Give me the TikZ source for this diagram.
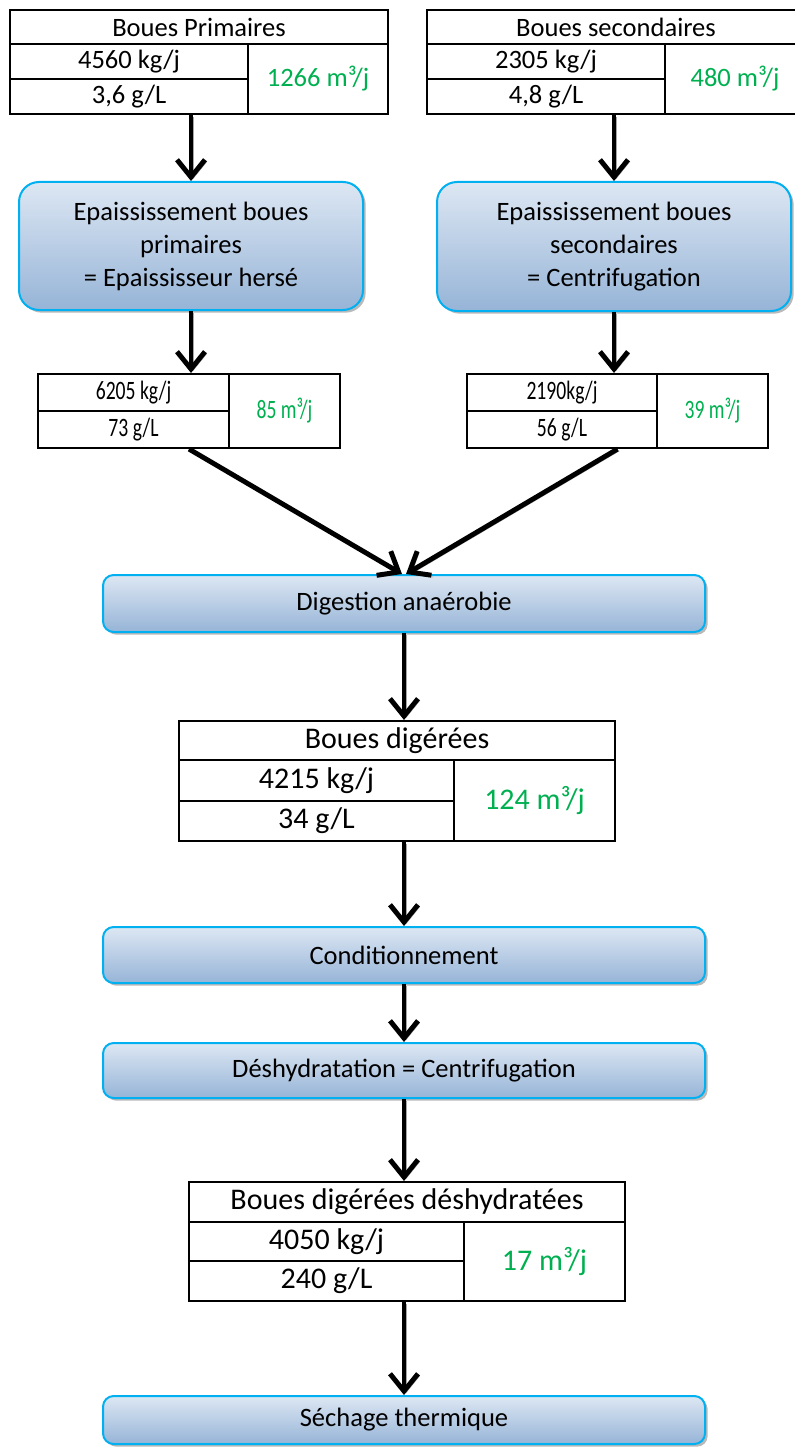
\documentclass[tikz,border=0pt]{standalone}
\usepackage{fontspec}
\setmainfont{Carlito}
\usetikzlibrary{arrows.meta,fit,shadows}

\definecolor{volgreen}{RGB}{0,176,80}
\definecolor{boxedge}{RGB}{0,176,240}
\definecolor{boxtop}{RGB}{221,231,243}
\definecolor{boxbottom}{RGB}{150,180,215}

\newcommand{\squeeze}[1]{\scalebox{0.74}[1]{#1}}

\tikzset{
  tab/.style={draw, line width=1.6pt, inner sep=0pt},
  txt/.style={font=\fontsize{19.9}{24.75}\selectfont, align=center, inner sep=0pt},
  bigtxt/.style={font=\fontsize{22.5}{27}\selectfont, inner sep=0pt},
  vol/.style={text=volgreen},
  procbox/.style={draw=boxedge, line width=1.5pt, rounded corners=15pt, inner sep=0pt,
    top color=boxtop, bottom color=boxbottom,
    drop shadow={shadow xshift=2pt, shadow yshift=-2pt, opacity=0.5, fill=black!55}},
  stepbox/.style={procbox, rounded corners=8pt},
  flow/.style={line width=3.7pt, -{Straight Barb[length=13pt,width=21pt]},
    preaction={draw=black!35, transform canvas={xshift=1.4pt,yshift=-1.4pt}}}
}

\begin{document}
\begin{tikzpicture}[x=0.75pt,y=-0.75pt]
\useasboundingbox (0,0) rectangle (795,1448);
\clip (0,0) rectangle (795,1448);

\node[tab, fit={(10,10) (388,114)}] (bpri) {};
\draw[line width=1.6pt] (10,44) -- (388,44) (248,44) -- (248,114) (10,79) -- (248,79);
\node[txt] (bpriH) at (199,27) {Boues Primaires};
\node[txt] (bpriM) at (129,61.5) {4560 kg/j};
\node[txt] (bpriC) at (129,96.5) {3,6 g/L};
\node[txt, vol] (bpriV) at (318,79) {1266 m³/j};

\node[tab, fit={(427,10) (805,114)}] (bsec) {};
\draw[line width=1.6pt] (427,44) -- (805,44) (665,44) -- (665,114) (427,79) -- (665,79);
\node[txt] (bsecH) at (616,27) {Boues secondaires};
\node[txt] (bsecM) at (546,61.5) {2305 kg/j};
\node[txt] (bsecC) at (546,96.5) {4,8 g/L};
\node[txt, vol] (bsecV) at (735,79) {480 m³/j};

\node[procbox, fit={(19,182) (363,310)}] (epri) {};
\node[txt] (epriT) at (epri) {Epaississement boues\\primaires\\= Epaississeur hersé};

\node[procbox, fit={(437,182) (791,311)}] (esec) {};
\node[txt] (esecT) at (esec) {Epaississement boues\\secondaires\\= Centrifugation};

\node[tab, fit={(38,374) (340,448)}] (tpri) {};
\draw[line width=1.6pt] (229,374) -- (229,448) (38,411) -- (229,411);
\node[txt] (tpriM) at (133.5,392.5) {\squeeze{6205 kg/j}};
\node[txt] (tpriC) at (133.5,429.5) {\squeeze{73 g/L}};
\node[txt, vol] (tpriV) at (284.5,411) {\squeeze{85 m³/j}};

\node[tab, fit={(467,374) (768,448)}] (tsec) {};
\draw[line width=1.6pt] (657,374) -- (657,448) (467,411) -- (657,411);
\node[txt] (tsecM) at (562,392.5) {\squeeze{2190kg/j}};
\node[txt] (tsecC) at (562,429.5) {\squeeze{56 g/L}};
\node[txt, vol] (tsecV) at (712.5,411) {\squeeze{39 m³/j}};

\node[stepbox, fit={(103,575) (705,632)}] (dig) {};
\node[txt] (digT) at (dig) {Digestion anaérobie};

\node[tab, fit={(179,721) (615,841)}] (bdig) {};
\draw[line width=1.6pt] (179,760) -- (615,760) (454,760) -- (454,841) (179,801) -- (454,801);
\node[bigtxt] (bdigH) at (397,740.5) {Boues digérées};
\node[bigtxt] (bdigM) at (316.5,780.5) {4215 kg/j};
\node[bigtxt] (bdigC) at (316.5,821) {34 g/L};
\node[bigtxt, vol] (bdigV) at (534.5,800.5) {124 m³/j};

\node[stepbox, fit={(103,927) (705,983)}] (cond) {};
\node[txt] (condT) at (cond) {Conditionnement};

\node[stepbox, fit={(103,1043) (705,1098)}] (desh) {};
\node[txt] (deshT) at (desh) {Déshydratation = Centrifugation};

\node[tab, fit={(189,1182) (625,1301)}] (bdes) {};
\draw[line width=1.6pt] (189,1222) -- (625,1222) (464,1222) -- (464,1301) (189,1261) -- (464,1261);
\node[bigtxt] (bdesH) at (407,1202) {Boues digérées déshydratées};
\node[bigtxt] (bdesM) at (326.5,1241.5) {4050 kg/j};
\node[bigtxt] (bdesC) at (326.5,1281) {240 g/L};
\node[bigtxt, vol] (bdesV) at (544.5,1261.5) {17 m³/j};

\node[stepbox, fit={(103,1396) (705,1444)}] (sech) {};
\node[txt] (sechT) at (sech) {Séchage thermique};

\draw[flow] (bpri.south -| epri.north) -- (epri.north);
\draw[flow] (bsec.south -| esec.north) -- (esec.north);
\draw[flow] (epri.south) -- (epri.south |- tpri.north);
\draw[flow] (esec.south) -- (esec.south |- tsec.north);
\draw[flow] (tpri.south) -- ([xshift=-1.5pt]dig.north);
\draw[flow] (tsec.south) -- ([xshift=1.5pt]dig.north);
\draw[flow] (dig.south) -- (dig.south |- bdig.north);
\draw[flow] (bdig.south -| cond.north) -- (cond.north);
\draw[flow] (cond.south) -- (desh.north);
\draw[flow] (desh.south) -- (desh.south |- bdes.north);
\draw[flow] (bdes.south -| sech.north) -- (sech.north);
\end{tikzpicture}
\end{document}
